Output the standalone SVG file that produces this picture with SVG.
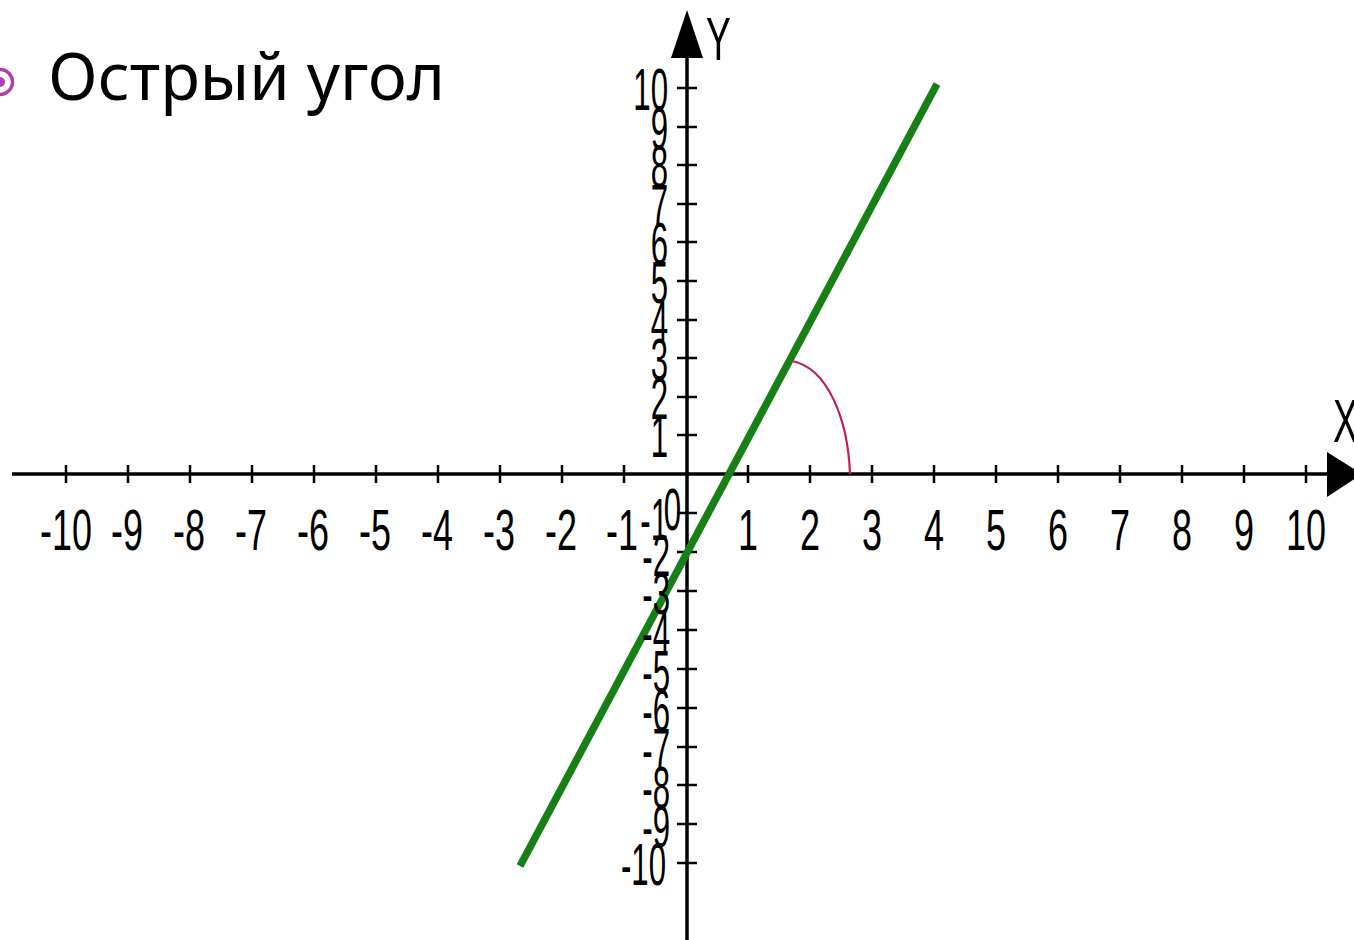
<svg xmlns="http://www.w3.org/2000/svg" width="1354" height="940" viewBox="0 0 1354 940">
<style>
.ax{stroke:#000;stroke-width:3.5;fill:none}
.tk{stroke:#000;stroke-width:2.5}
.xl{font-family:"Liberation Sans",Arial,sans-serif;font-size:58px;fill:#000;text-anchor:middle}
.yl{font-family:"Liberation Sans",Arial,sans-serif;font-size:60px;fill:#000;text-anchor:end}
.al{font-family:"Liberation Sans",Arial,sans-serif;font-size:62px;fill:#000}
.title{font-family:"Noto Sans","DejaVu Sans",sans-serif;font-size:66px;fill:#000}
</style>
<rect width="1354" height="940" fill="#fff"/>
<g id="title">
<circle cx="0" cy="82" r="12.5" fill="none" stroke="#b040b0" stroke-width="3.5"/>
<circle cx="0" cy="82" r="5" fill="#b040b0"/>
<text class="title" x="48" y="100" textLength="397" lengthAdjust="spacingAndGlyphs">Острый угол</text>
</g>
<g id="connectors">
<g id="x-axis">
<line class="ax" x1="12" y1="474" x2="1330" y2="474"/>
<polygon points="1327,452 1327,497 1362,474" fill="#000"/>
<g class="tk">
<line x1="66" y1="465" x2="66" y2="483"/><line x1="128" y1="465" x2="128" y2="483"/><line x1="190" y1="465" x2="190" y2="483"/><line x1="252" y1="465" x2="252" y2="483"/><line x1="314" y1="465" x2="314" y2="483"/><line x1="376" y1="465" x2="376" y2="483"/><line x1="438" y1="465" x2="438" y2="483"/><line x1="500" y1="465" x2="500" y2="483"/><line x1="562" y1="465" x2="562" y2="483"/><line x1="624" y1="465" x2="624" y2="483"/>
<line x1="748" y1="465" x2="748" y2="483"/><line x1="810" y1="465" x2="810" y2="483"/><line x1="872" y1="465" x2="872" y2="483"/><line x1="934" y1="465" x2="934" y2="483"/><line x1="996" y1="465" x2="996" y2="483"/><line x1="1058" y1="465" x2="1058" y2="483"/><line x1="1120" y1="465" x2="1120" y2="483"/><line x1="1182" y1="465" x2="1182" y2="483"/><line x1="1244" y1="465" x2="1244" y2="483"/><line x1="1306" y1="465" x2="1306" y2="483"/>
</g>
</g>
<g id="y-axis">
<line class="ax" x1="687" y1="55" x2="687" y2="940"/>
<polygon points="687,10 671,58 703,58" fill="#000"/>
<g class="tk">
<line x1="677" y1="88" x2="697" y2="88"/><line x1="677" y1="127" x2="697" y2="127"/><line x1="677" y1="165" x2="697" y2="165"/><line x1="677" y1="204" x2="697" y2="204"/><line x1="677" y1="242" x2="697" y2="242"/><line x1="677" y1="281" x2="697" y2="281"/><line x1="677" y1="320" x2="697" y2="320"/><line x1="677" y1="358" x2="697" y2="358"/><line x1="677" y1="397" x2="697" y2="397"/><line x1="677" y1="435" x2="697" y2="435"/>
<line x1="677" y1="513" x2="697" y2="513"/><line x1="677" y1="552" x2="697" y2="552"/><line x1="677" y1="591" x2="697" y2="591"/><line x1="677" y1="630" x2="697" y2="630"/><line x1="677" y1="669" x2="697" y2="669"/><line x1="677" y1="708" x2="697" y2="708"/><line x1="677" y1="747" x2="697" y2="747"/><line x1="677" y1="785" x2="697" y2="785"/><line x1="677" y1="824" x2="697" y2="824"/><line x1="677" y1="863" x2="697" y2="863"/>
</g>
</g>
<line id="graph" x1="520" y1="866" x2="937" y2="84" stroke="#168016" stroke-width="7.5"/>
<path id="angle" d="M792,361 C828,368 848,420 850,474" fill="none" stroke="#c02050" stroke-width="2.2"/>
</g>
<g id="x-labels">
<text class="xl" transform="translate(66,550) scale(0.62,1)">-10</text>
<text class="xl" transform="translate(127,550) scale(0.62,1)">-9</text>
<text class="xl" transform="translate(189,550) scale(0.62,1)">-8</text>
<text class="xl" transform="translate(251,550) scale(0.62,1)">-7</text>
<text class="xl" transform="translate(313,550) scale(0.62,1)">-6</text>
<text class="xl" transform="translate(375,550) scale(0.62,1)">-5</text>
<text class="xl" transform="translate(437,550) scale(0.62,1)">-4</text>
<text class="xl" transform="translate(499,550) scale(0.62,1)">-3</text>
<text class="xl" transform="translate(561,550) scale(0.62,1)">-2</text>
<text class="xl" transform="translate(622,550) scale(0.62,1)">-1</text>
<text class="xl" transform="translate(748,550) scale(0.62,1)">1</text>
<text class="xl" transform="translate(810,550) scale(0.62,1)">2</text>
<text class="xl" transform="translate(872,550) scale(0.62,1)">3</text>
<text class="xl" transform="translate(934,550) scale(0.62,1)">4</text>
<text class="xl" transform="translate(996,550) scale(0.62,1)">5</text>
<text class="xl" transform="translate(1058,550) scale(0.62,1)">6</text>
<text class="xl" transform="translate(1120,550) scale(0.62,1)">7</text>
<text class="xl" transform="translate(1182,550) scale(0.62,1)">8</text>
<text class="xl" transform="translate(1244,550) scale(0.62,1)">9</text>
<text class="xl" transform="translate(1306,550) scale(0.62,1)">10</text>
</g>
<g id="y-labels">
<text class="yl" transform="translate(668,110) scale(0.52,1)">10</text>
<text class="yl" transform="translate(668,149) scale(0.52,1)">9</text>
<text class="yl" transform="translate(668,187) scale(0.52,1)">8</text>
<text class="yl" transform="translate(668,226) scale(0.52,1)">7</text>
<text class="yl" transform="translate(668,264) scale(0.52,1)">6</text>
<text class="yl" transform="translate(668,303) scale(0.52,1)">5</text>
<text class="yl" transform="translate(668,342) scale(0.52,1)">4</text>
<text class="yl" transform="translate(668,380) scale(0.52,1)">3</text>
<text class="yl" transform="translate(668,419) scale(0.52,1)">2</text>
<text class="yl" transform="translate(668,457) scale(0.52,1)">1</text>
<text class="yl" transform="translate(681,530) scale(0.52,1)">0</text>
<text class="yl" transform="translate(668,540) scale(0.52,1)">-1</text>
<text class="yl" transform="translate(670,576) scale(0.52,1)">-2</text>
<text class="yl" transform="translate(670,614) scale(0.52,1)">-3</text>
<text class="yl" transform="translate(670,653) scale(0.52,1)">-4</text>
<text class="yl" transform="translate(670,692) scale(0.52,1)">-5</text>
<text class="yl" transform="translate(670,731) scale(0.52,1)">-6</text>
<text class="yl" transform="translate(670,770) scale(0.52,1)">-7</text>
<text class="yl" transform="translate(670,808) scale(0.52,1)">-8</text>
<text class="yl" transform="translate(670,847) scale(0.52,1)">-9</text>
<text class="yl" transform="translate(666,885) scale(0.52,1)">-10</text>
</g>
<g id="axis-names">
<text class="al" transform="translate(706,60) scale(0.6,1)">Y</text>
<text class="al" transform="translate(1333,442) scale(0.6,1)">X</text>
</g>
</svg>
